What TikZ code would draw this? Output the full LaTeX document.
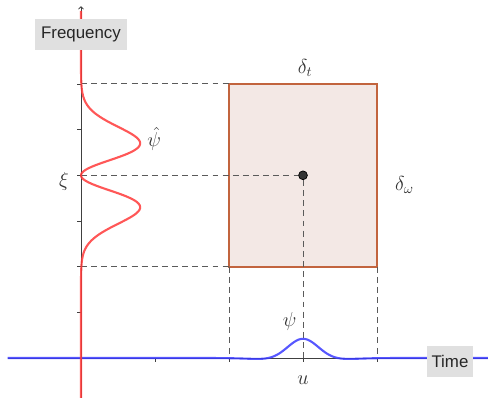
\documentclass[tikz,border=0pt]{standalone}
\usepackage{fontspec}
\setsansfont{Liberation Sans}
\usetikzlibrary{arrows.meta}
\definecolor{tfred}{HTML}{FF3A3A}
\definecolor{tfblue}{HTML}{3A3AFF}
\definecolor{tfbrown}{HTML}{C2643E}
\definecolor{tfsoft}{HTML}{F3E8E5}
\definecolor{tfgray}{HTML}{5A5A5A}
\definecolor{tfink}{HTML}{333333}
\definecolor{tfbox}{HTML}{E0E0E0}
\begin{document}
\begin{tikzpicture}[
  x=1.85cm, y=1.1417cm,
  axis/.style={line width=0.6pt, black!75},
  guide/.style={line width=0.7pt, tfgray, dash pattern=on 4.2pt off 3pt},
  freqc/.style={line width=1.5pt, tfred, opacity=0.85},
  timec/.style={line width=1.5pt, tfblue, opacity=0.85},
  cell/.style={draw=tfbrown, line width=1.6pt, fill=tfsoft},
  dot/.style={circle, draw=black, fill=tfink, line width=0.5pt,
    minimum size=0.22cm, inner sep=0pt},
  axlab/.style={fill=tfbox, font=\sffamily\large, inner sep=0pt,
    minimum height=0.775cm, text=black!85},
  lab/.style={font=\Large, text=tfink, inner sep=1pt}
]
\useasboundingbox (-1.0946,-0.8758) rectangle (5.5,7.8388);

% axes
\coordinate (o) at (0,0);
\coordinate (ytop) at (0,7.7);
\coordinate (ybot) at (0,-0.88);
\coordinate (xl) at (-0.99,0);
\coordinate (xr) at (5.5,0);
\draw[axis, -{To[length=2.2pt,width=4pt]}] (ybot) -- (ytop);
\draw[axis] (xl) -- (xr);
\foreach \k in {1,...,6}
  \draw[axis] (0,\k) -- ++(-0.1cm,0);
\foreach \k in {1,...,4}
  \draw[axis] (\k,0) -- ++(0,-0.1cm);

% box
\coordinate (bl) at (2,2);
\coordinate (tr) at (4,6);
\coordinate (tl) at (2,6);
\coordinate (br) at (4,2);
\draw[cell] (bl) rectangle (tr);
\node[dot] (c) at (3,4) {};

\coordinate (f6) at (0,6);
\coordinate (f4) at (0,4);
\coordinate (f2) at (0,2);
\coordinate (t2) at (2,0);
\coordinate (t3) at (3,0);
\coordinate (t4) at (4,0);
\draw[guide] (f6) -- (tl);
\draw[guide] (f4) -- (c);
\draw[guide] (f2) -- (bl);
\draw[guide] (bl) -- (t2);
\draw[guide] (c) -- (t3);
\draw[guide] (br) -- (t4);

% curves
\draw[timec] (xl) -- (1.5,0)
  -- plot[domain=1.5:4.5, samples=120, variable=\s]
     ({\s}, {0.5*exp(-((\s-3)/0.3)*((\s-3)/0.3))-0.08*exp(-((\s-3)/0.6)*((\s-3)/0.6))})
  -- (xr);
\draw[freqc] (ybot) -- (0,1.2)
  -- plot[domain=1.2:6.8, samples=160, variable=\t]
     ({0.8*((\t-4)/0.7)*((\t-4)/0.7)*exp(1-((\t-4)/0.7)*((\t-4)/0.7))}, {\t})
  -- (0,7.6);

% labels
\node[axlab, minimum width=2.3cm] (freq) at (0,7.083) {Frequency};
\node[axlab, minimum width=1.15cm] (time) at (4.986,-0.077) {Time};
\node[lab] (dt) at (3.03,6.35) {$\delta_t$};
\node[lab] (dw) at (4.37,3.78) {$\delta_\omega$};
\node[lab] (psihat) at (0.99,4.8) {$\hat\psi$};
\node[lab] (xi) at (-0.23,3.87) {$\xi$};
\node[lab] (psi) at (2.82,0.79) {$\psi$};
\node[lab] (u) at (3.0,-0.49) {$u$};
\end{tikzpicture}
\end{document}
